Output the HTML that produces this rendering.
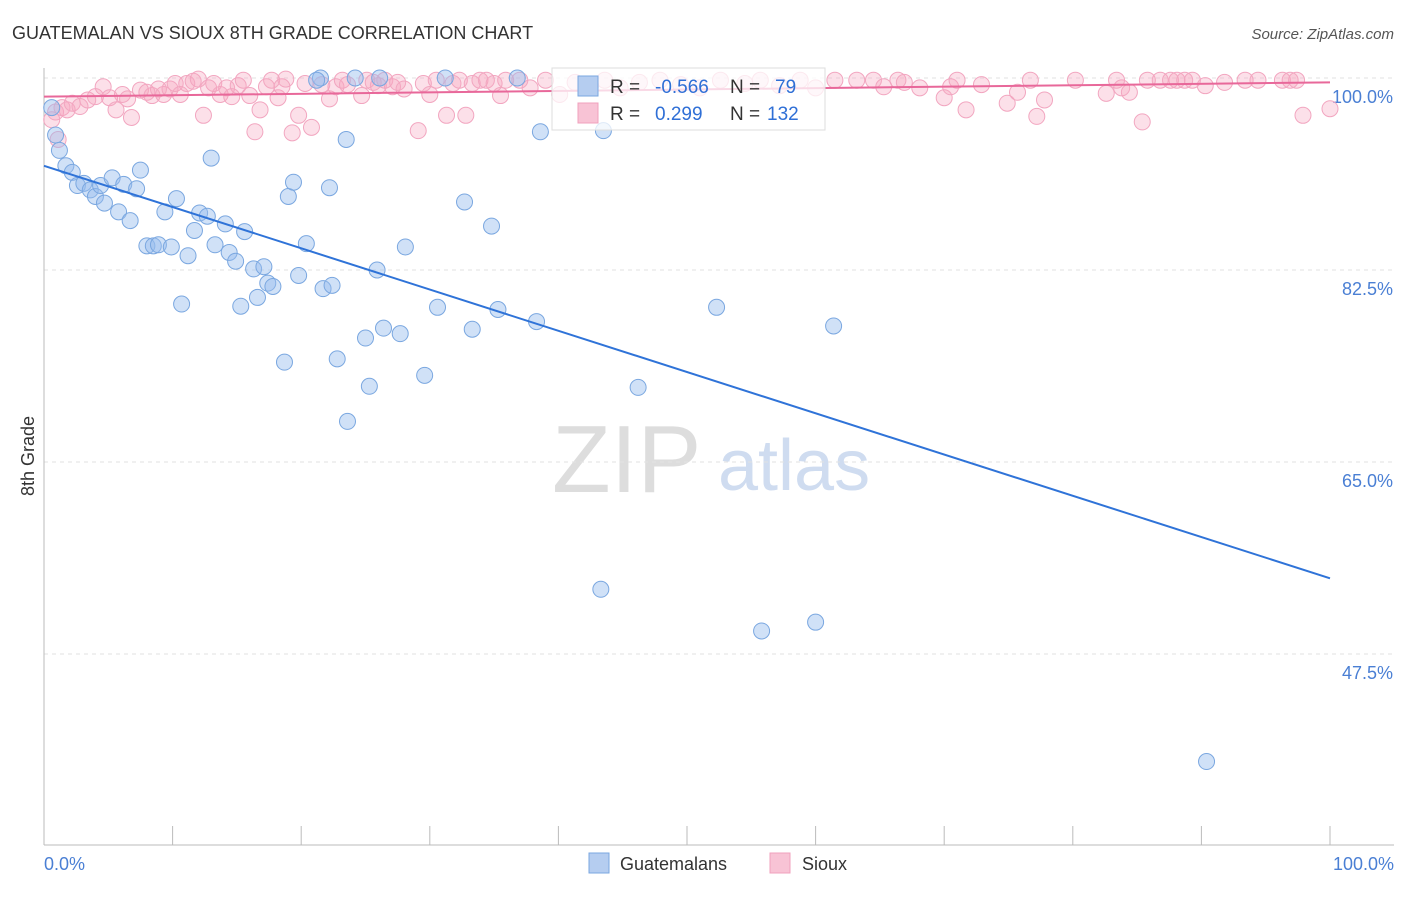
<!DOCTYPE html>
<html><head><meta charset="utf-8"><style>
body{margin:0;background:#fff;font-family:"Liberation Sans",sans-serif}
svg text{font-family:"Liberation Sans",sans-serif}
</style></head><body>
<svg id="chart" width="1406" height="892" xmlns="http://www.w3.org/2000/svg">
<text x="12" y="39" font-size="18" fill="#333">GUATEMALAN VS SIOUX 8TH GRADE CORRELATION CHART</text>
<text x="1394" y="39" font-size="15" fill="#555" font-style="italic" text-anchor="end">Source: ZipAtlas.com</text>
<g>
<text x="552" y="492" font-size="96" fill="#ddd" font-family="Liberation Serif,serif">ZIP</text>
<text x="718" y="490" font-size="72" fill="#cfdcf0">atlas</text>
</g>
<g id="grid"></g><g id="axes"></g><g id="pts"></g><g id="lines"></g>
<text transform="translate(34,456) rotate(-90)" font-size="18" fill="#333" text-anchor="middle">8th Grade</text>
<text x="44" y="870" font-size="18" fill="#4a7fd4">0.0%</text>
<text x="1394" y="870" font-size="18" fill="#4a7fd4" text-anchor="end">100.0%</text>
<g>
<rect x="552" y="68" width="273" height="62" fill="rgba(255,255,255,0.75)" stroke="#ddd"/>
<rect x="578" y="76" width="20" height="20" fill="#b5cdf0" stroke="#7aa7e0"/>
<text x="610" y="93" font-size="19" fill="#333">R =</text>
<text x="655" y="93" font-size="19" fill="#2f6fd6">-0.566</text>
<text x="730" y="93" font-size="19" fill="#333">N =</text>
<text x="775" y="93" font-size="19" fill="#2f6fd6">79</text>
<rect x="578" y="103" width="20" height="20" fill="#f8c3d5" stroke="#f0a0bd"/>
<text x="610" y="120" font-size="19" fill="#333">R =</text>
<text x="655" y="120" font-size="19" fill="#2f6fd6">0.299</text>
<text x="730" y="120" font-size="19" fill="#333">N =</text>
<text x="767" y="120" font-size="19" fill="#2f6fd6">132</text>
</g>
<g>
<rect x="589" y="853" width="20" height="20" fill="#b5cdf0" stroke="#7aa7e0"/>
<text x="620" y="870" font-size="18" fill="#333">Guatemalans</text>
<rect x="770" y="853" width="20" height="20" fill="#f8c3d5" stroke="#f0a0bd"/>
<text x="802" y="870" font-size="18" fill="#333">Sioux</text>
</g>
</svg>
<script>
const yTicks=[100,82.5,65,47.5];
const xTicks=[0,10,20,30,40,50,60,70,80,90,100];
const blueX=[0.6,0.9,1.2,1.7,2.2,2.6,3.1,3.6,4.0,4.4,4.7,5.3,5.8,6.2,6.7,7.2,7.5,8.0,8.5,8.9,9.4,9.9,10.3,10.7,11.2,11.7,12.1,12.7,13.0,13.3,14.1,14.4,14.9,15.3,15.6,16.3,16.6,17.1,17.4,17.8,18.7,19.0,19.4,20.4,19.8,21.7,22.2,22.4,22.8,23.5,23.6,25.0,25.3,25.9,26.1,26.4,27.7,28.1,29.6,30.6,31.2,32.7,33.3,34.8,35.3,36.8,38.3,38.6,43.3,43.5,46.2,52.3,55.8,60.0,61.4,90.4,21.5,24.2,21.2];
const blueY=[97.3,94.8,93.4,92.0,91.4,90.2,90.4,89.8,89.2,90.2,88.6,90.9,87.8,90.3,87.0,89.9,91.6,84.7,84.7,84.8,87.8,84.6,89.0,79.4,83.8,86.1,87.7,87.4,92.7,84.8,86.7,84.1,83.3,79.2,86.0,82.6,80.0,82.8,81.3,81.0,74.1,89.2,90.5,84.9,82.0,80.8,90.0,81.1,74.4,94.4,68.7,76.3,71.9,82.5,100,77.2,76.7,84.6,72.9,79.1,100,88.7,77.1,86.5,78.9,100,77.8,95.1,53.4,95.2,71.8,79.1,49.6,50.4,77.4,37.7,100,100,99.8];
const pinkX=[0.6,0.9,1.1,1.4,1.8,2.2,2.8,3.4,4.0,4.6,5.1,5.6,6.1,6.5,6.8,7.5,8.0,8.4,8.9,9.3,9.8,10.2,10.6,11.1,11.6,12.0,12.4,12.8,13.2,13.7,14.2,14.6,15.1,15.5,16.0,16.4,16.8,17.3,17.7,18.2,18.5,18.8,19.3,19.8,20.3,20.8,21.6,22.2,22.7,23.2,23.6,24.7,25.1,25.6,26.0,26.5,27.1,27.5,28.0,29.1,29.5,30.0,30.5,31.3,31.8,32.3,32.8,33.3,33.9,34.4,35.0,35.5,35.9,37.0,37.8,39.0,40.1,41.3,42.5,43.6,44.8,46.3,47.9,49.5,51.0,52.6,54.5,55.7,57.2,58.8,60.0,61.5,63.2,64.5,65.3,66.4,66.9,68.1,70.0,70.5,71.0,71.7,72.9,74.9,75.7,76.7,77.2,77.8,80.2,82.6,83.4,83.8,84.4,85.4,85.8,86.8,87.6,88.1,88.7,89.3,90.3,91.8,93.4,94.4,96.3,96.9,97.4,97.9,100];
const pinkY=[96.2,96.9,94.4,97.3,97.1,97.7,97.4,98.0,98.3,99.2,98.2,97.1,98.5,98.1,96.4,98.9,98.7,98.4,99.0,98.5,99.0,99.5,98.5,99.5,99.7,99.9,96.6,99.1,99.5,98.5,99.1,98.3,99.3,99.8,98.4,95.1,97.1,99.2,99.8,98.2,99.2,99.9,95.0,96.6,99.5,95.5,99.4,98.1,99.2,99.8,99.4,98.4,99.8,99.6,99.3,99.8,99.2,99.6,99.0,95.2,99.5,98.5,99.8,96.6,99.5,99.8,96.6,99.5,99.8,99.8,99.5,98.4,99.8,99.8,99.1,99.8,98.5,99.6,99.3,99.8,99.1,99.6,99.8,99.4,99.1,99.8,99.5,99.8,99.3,99.8,99.1,99.8,99.8,99.8,99.2,99.8,99.6,99.1,98.2,99.2,99.8,97.1,99.4,97.7,98.7,99.8,96.5,98.0,99.8,98.6,99.8,99.1,98.7,96.0,99.8,99.8,99.8,99.8,99.8,99.8,99.3,99.6,99.8,99.8,99.8,99.8,99.8,96.6,97.2];
const blueTrend=[92.0,54.4];
const pinkTrend=[98.3,99.6];
const NS='http://www.w3.org/2000/svg';
const X0=44,X1=1330,Y100=78,PX=192/17.5,YB=845;
const sx=v=>X0+(X1-X0)*v/100;
const sy=v=>Y100+(100-v)*PX;
function mk(t,a,p){const e=document.createElementNS(NS,t);for(const k in a)e.setAttribute(k,a[k]);p.appendChild(e);return e;}
const grid=document.getElementById('grid'),axes=document.getElementById('axes'),pts=document.getElementById('pts'),lines=document.getElementById('lines');
yTicks.forEach(v=>{
 const l=mk('line',{x1:X0,x2:1394,y1:sy(v),y2:sy(v),stroke:'#e2e2e2','stroke-dasharray':'4,4'},grid);
 
 
 const t=mk('text',{x:1393,y:sy(v)+25,'font-size':18,fill:'#4a7fd4','text-anchor':'end'},grid);
 t.textContent=v.toFixed(1)+'%';
 
 
});
const ya=mk('line',{x1:X0,x2:X0,y1:68,y2:YB,stroke:'#bbb'},axes);


const xa=mk('line',{x1:X0,x2:1394,y1:YB,y2:YB,stroke:'#bbb'},axes);


xTicks.forEach(v=>{
 const t=mk('line',{x1:sx(v),x2:sx(v),y1:826,y2:YB,stroke:'#bbb'},axes);
 
 
});
pinkX.forEach((x,i)=>{
 const c=mk('circle',{cx:sx(x),cy:sy(pinkY[i]),r:8,fill:'rgba(245,165,192,0.35)',stroke:'#f2a6c0','stroke-width':1},pts);
 
 
});
blueX.forEach((x,i)=>{
 const c=mk('circle',{cx:sx(x),cy:sy(blueY[i]),r:8,fill:'rgba(150,188,238,0.45)',stroke:'#7aa7e0','stroke-width':1},pts);
 
 
});
const bl=mk('line',{x1:sx(0),x2:sx(100),y1:sy(blueTrend[0]),y2:sy(blueTrend[1]),stroke:'#2f73d8','stroke-width':2},lines);


const pl=mk('line',{x1:sx(0),x2:sx(100),y1:sy(pinkTrend[0]),y2:sy(pinkTrend[1]),stroke:'#e8689a','stroke-width':2},lines);


</script>
</body></html>
